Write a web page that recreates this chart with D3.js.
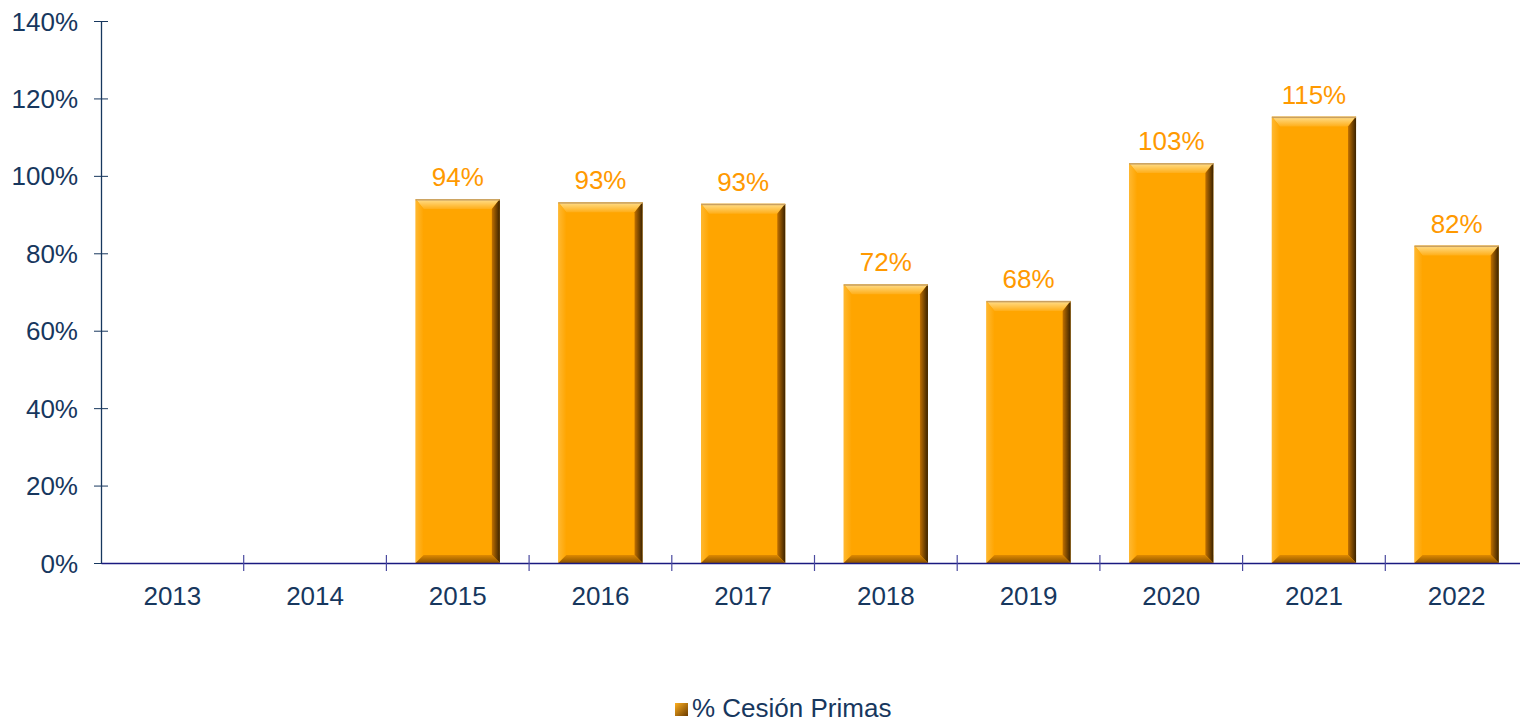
<!DOCTYPE html>
<html><head><meta charset="utf-8">
<script src="https://cdn.jsdelivr.net/npm/d3@7"></script>
<style>body{margin:0;background:#fff}svg{display:block}text{font-family:"Liberation Sans",Arial,sans-serif}</style>
</head><body>
<svg id="c" width="1520" height="720"></svg>
<script>
const categories = ["2013","2014","2015","2016","2017","2018","2019","2020","2021","2022"];
const values = [null,null,0.94,0.932,0.928,0.72,0.677,1.033,1.153,0.82];
const labels = ["","","94%","93%","93%","72%","68%","103%","115%","82%"];
const yTicks = [0,0.2,0.4,0.6,0.8,1.0,1.2,1.4];
const seriesName = "% Cesión Primas";

const svg = d3.select("#c");
const x0 = 101, x1 = 1528, yTop = 21, yBot = 563;
const x = d3.scaleBand().domain(categories).range([x0,x1]).paddingInner(0.41).paddingOuter(0.205);
const xb = d3.scaleBand().domain(categories).range([x0,x1]);
const y = d3.scaleLinear().domain([0,1.4]).range([yBot,yTop]);
const navy = "#17375E";
const fs = 26;

const defs = svg.append("defs");
const gTop = defs.append("linearGradient").attr("id","gTop").attr("x1",0).attr("y1",0).attr("x2",0).attr("y2",1);
gTop.append("stop").attr("offset",0).attr("stop-color","#FFE090");
gTop.append("stop").attr("offset",1).attr("stop-color","#FFAE18");
const gRight = defs.append("linearGradient").attr("id","gRight").attr("x1",0).attr("y1",0).attr("x2",1).attr("y2",0);
gRight.append("stop").attr("offset",0).attr("stop-color","#C07000");
gRight.append("stop").attr("offset",1).attr("stop-color","#3A2200");
const gBot = defs.append("linearGradient").attr("id","gBot").attr("x1",0).attr("y1",0).attr("x2",0).attr("y2",1);
gBot.append("stop").attr("offset",0).attr("stop-color","#E08A00");
gBot.append("stop").attr("offset",1).attr("stop-color","#8A5200");
const gLeft = defs.append("linearGradient").attr("id","gLeft").attr("x1",0).attr("y1",0).attr("x2",1).attr("y2",0);
gLeft.append("stop").attr("offset",0).attr("stop-color","#FFB830");
gLeft.append("stop").attr("offset",1).attr("stop-color","#FFA500");

// axes
const yAxis = d3.axisLeft(y).tickValues(yTicks).tickFormat(d3.format(".0%")).tickSizeInner(7).tickSizeOuter(0);
const gy = svg.append("g").attr("transform",`translate(${x0},0)`).call(yAxis);
gy.select(".domain").attr("stroke",navy).attr("stroke-width",1.3);
gy.selectAll(".tick line").attr("stroke",navy).attr("x2",7).attr("x1",-7);
gy.selectAll(".tick text").attr("fill",navy).attr("font-size",fs).attr("x",-23).attr("dy","0.35em");

// bars
const data = categories.map((c,i)=>({c,v:values[i],l:labels[i]})).filter(d=>d.v!=null);
const bars = svg.append("g").selectAll("g").data(data).join("g");
const b = 8;
bars.each(function(d){
  const g = d3.select(this);
  const xl = x(d.c), xr = xl + x.bandwidth(), yt = y(d.v), yb = y(0);
  g.append("rect").attr("x",xl).attr("y",yt).attr("width",xr-xl).attr("height",yb-yt).attr("fill","#FFA500");
  g.append("polygon").attr("points",[[xl,yt],[xr,yt],[xr-b,yt+b+2],[xl+b,yt+b+2]].join(" ")).attr("fill","url(#gTop)");
  g.append("polygon").attr("points",[[xl,yt],[xl+b,yt+b+2],[xl+b,yb-b],[xl,yb]].join(" ")).attr("fill","url(#gLeft)");
  g.append("polygon").attr("points",[[xr,yt],[xr,yb],[xr-b,yb-b],[xr-b,yt+b+2]].join(" ")).attr("fill","url(#gRight)");
  g.append("polygon").attr("points",[[xl,yb],[xr,yb],[xr-b,yb-b],[xl+b,yb-b]].join(" ")).attr("fill","url(#gBot)");
  g.append("rect").attr("x",xl).attr("y",yt).attr("width",xr-xl).attr("height",1.5).attr("fill","#C9A060");
  g.append("text").attr("x",(xl+xr)/2).attr("y",yt-13).attr("text-anchor","middle")
    .attr("fill","#FF9900").attr("font-size",fs).text(d.l);
});

// x axis
const xAxis = d3.axisBottom(xb).tickSize(0);
const gx = svg.append("g").attr("transform",`translate(0,${yBot})`).call(xAxis);
gx.select(".domain").attr("stroke","#1A1A80").attr("stroke-width",1.3);
gx.selectAll(".tick text").attr("fill",navy).attr("font-size",fs).attr("y",42).attr("dy",0);
svg.append("g").selectAll("line").data(categories.slice(1)).join("line")
  .attr("x1",d=>xb(d)).attr("x2",d=>xb(d)).attr("y1",yBot-8).attr("y2",yBot+8)
  .attr("stroke","#4A4AA0").attr("stroke-width",1.2);

// legend
const lg = svg.append("g").attr("transform","translate(675,703)");
const gLeg = defs.append("linearGradient").attr("id","gLeg").attr("x1",0).attr("y1",0).attr("x2",1).attr("y2",1);
gLeg.append("stop").attr("offset",0).attr("stop-color","#FFB020");
gLeg.append("stop").attr("offset",1).attr("stop-color","#6A3A00");
lg.append("rect").attr("width",13).attr("height",13).attr("fill","url(#gLeg)");
lg.append("text").attr("x",17).attr("y",14).attr("fill",navy).attr("font-size",fs).text(seriesName);
</script>
</body></html>
